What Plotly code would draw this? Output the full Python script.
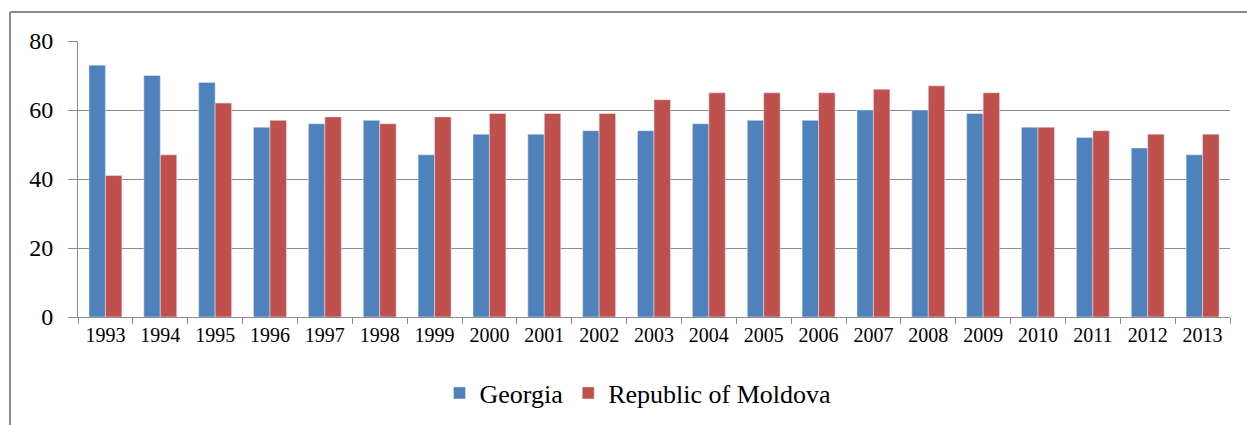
import plotly.graph_objects as go

years = [str(y) for y in range(1993, 2014)]
georgia = [73, 70, 68, 55, 56, 57, 47, 53, 53, 54, 54, 56, 57, 57, 60, 60, 59, 55, 52, 49, 47]
moldova = [41, 47, 62, 57, 58, 56, 58, 59, 59, 59, 63, 65, 65, 65, 66, 67, 65, 55, 54, 53, 53]

W, H = 1247, 425
L, R, T, B = 78, 17, 41, 108
pw, ph = W - L - R, H - T - B

def px(x):
    return (x - L) / pw

def py(y):
    return (H - B - y) / ph

SERIF = "Liberation Serif, Times New Roman, serif"

fig = go.Figure()
fig.add_trace(go.Bar(x=years, y=georgia, name="Georgia", marker_color="#4F81BD"))
fig.add_trace(go.Bar(x=years, y=moldova, name="Republic of Moldova", marker_color="#C0504D"))

grid = "#8c8c8c"
fig.update_layout(
    width=W, height=H,
    margin=dict(l=L, r=R, t=T, b=B, pad=0, autoexpand=False),
    paper_bgcolor="white", plot_bgcolor="white",
    barmode="group", bargap=0.4, bargroupgap=0,
    font=dict(family=SERIF, color="#000000"),
    legend=dict(orientation="h", xref="container", yref="container",
                x=638 / W, xanchor="center", y=(H - 393) / H, yanchor="middle",
                font=dict(size=26, family=SERIF), itemwidth=30,
                traceorder="normal"),
    xaxis=dict(type="category", showline=True, linecolor=grid, linewidth=1,
               ticks="outside", tickson="boundaries", ticklen=6, tickcolor=grid,
               tickfont=dict(size=20, family=SERIF), showgrid=False),
    yaxis=dict(range=[0, 80], dtick=20, showline=True, linecolor=grid, linewidth=1,
               ticks="outside", ticklen=9, tickcolor=grid, gridcolor=grid, gridwidth=1,
               tickfont=dict(size=24, family=SERIF), ticklabelstandoff=10, zeroline=False),
    shapes=[
        dict(type="line", xref="paper", yref="paper", x0=px(10), x1=px(1247), y0=py(12), y1=py(12),
             line=dict(color="#8a8a8a", width=2)),
        dict(type="line", xref="paper", yref="paper", x0=px(10), x1=px(10), y0=py(430), y1=py(12),
             line=dict(color="#8a8a8a", width=2)),
    ],
)
fig.write_html("out.html", config={"displayModeBar": False})

with open("out.html", "r", encoding="utf-8") as f:
    html = f.read()
html = html.replace("<head>", "<head><style>html,body{margin:0;padding:0;overflow:hidden;}</style>", 1)
with open("out.html", "w", encoding="utf-8") as f:
    f.write(html)
